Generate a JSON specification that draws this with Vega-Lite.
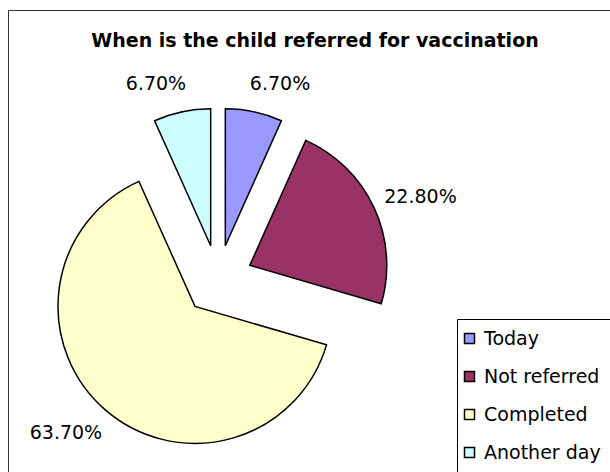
{
  "$schema": "https://vega.github.io/schema/vega-lite/v6.json",
  "width": 604,
  "height": 464,
  "autosize": "none",
  "padding": {"left": 8, "top": 10, "right": 0, "bottom": 0},
  "background": "white",
  "view": {"stroke": "#333333", "strokeWidth": 1, "fill": "white"},
  "title": {
    "text": "When is the child referred for vaccination",
    "font": "DejaVu Sans",
    "fontSize": 19,
    "fontWeight": "bold",
    "color": "#000000",
    "anchor": "middle",
    "offset": -41,
    "dx": 5
  },
  "config": {"view": {"stroke": "#333333", "strokeWidth": 1}},
  "data": {
    "values": [
      {"category": "Today", "value": 0.067, "order": 1},
      {"category": "Not referred", "value": 0.228, "order": 2},
      {"category": "Completed", "value": 0.637, "order": 3},
      {"category": "Another day", "value": 0.067, "order": 4}
    ]
  },
  "encoding": {
    "theta": {"field": "value", "type": "quantitative", "stack": true, "scale": {"domain": [0, 0.999]}},
    "order": {"field": "order", "type": "quantitative"},
    "color": {
      "field": "category",
      "type": "nominal",
      "scale": {
        "domain": ["Today", "Not referred", "Completed", "Another day"],
        "range": ["#9999FF", "#993366", "#FFFFCC", "#CCFFFF"]
      },
      "legend": {
        "orient": "none",
        "legendX": 449,
        "legendY": 309,
        "title": null,
        "symbolType": "square",
        "symbolSize": 100,
        "symbolStrokeColor": "#000000",
        "symbolStrokeWidth": 1.5,
        "symbolOpacity": 1,
        "symbolOffset": -7,
        "labelFont": "DejaVu Sans",
        "labelFontSize": 19,
        "labelColor": "#000000",
        "labelOffset": 5,
        "labelLimit": 0,
        "padding": 10,
        "rowPadding": 18,
        "strokeColor": "#000000",
        "fillColor": "#ffffff"
      }
    }
  },
  "layer": [
    {
      "mark": {
        "type": "arc",
        "outerRadius": 137,
        "stroke": "#000000",
        "strokeWidth": 1.5,
        "x": {"expr": "210 + 35*sin(scale('theta', (datum.value_start + datum.value_end)/2))"},
        "y": {"expr": "270 - 35*cos(scale('theta', (datum.value_start + datum.value_end)/2))"}
      }
    },
    {
      "mark": {
        "type": "text",
        "radius": 166,
        "font": "DejaVu Sans",
        "fontSize": 19,
        "align": "center",
        "baseline": "middle",
        "x": {"expr": "210 + 35*sin(scale('theta', (datum.value_start + datum.value_end)/2)) + (sin(scale('theta', (datum.value_start + datum.value_end)/2)) > 0 ? 20 : -20)"},
        "y": {"expr": "271 - 35*cos(scale('theta', (datum.value_start + datum.value_end)/2))"}
      },
      "encoding": {
        "text": {"field": "value", "type": "quantitative", "format": ".2%"},
        "detail": {"field": "category"},
        "color": {"value": "#000000"}
      }
    }
  ]
}
